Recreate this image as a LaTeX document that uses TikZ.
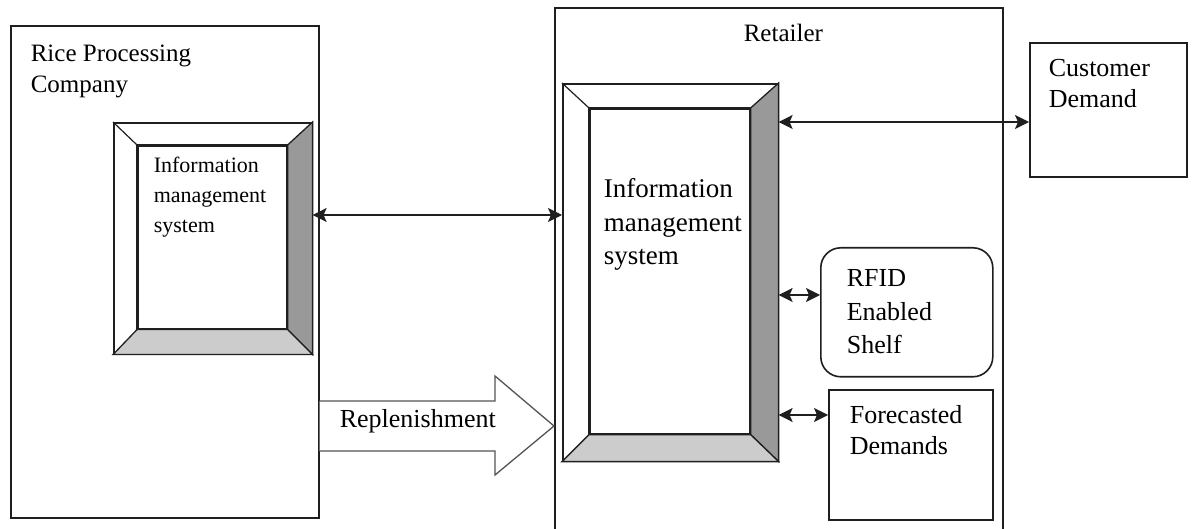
\documentclass[tikz,border=0pt]{standalone}
\usepackage{fontspec}
\setmainfont{Liberation Serif}
\usetikzlibrary{arrows.meta}
\definecolor{edge}{gray}{0.12}
\definecolor{bevdark}{gray}{0.60}
\definecolor{bevlight}{gray}{0.80}
\definecolor{blockline}{gray}{0.33}
\begin{document}
\begin{tikzpicture}[x=1pt,y=-1pt,line width=1.6pt,
  frame/.style={draw=edge,rectangle,inner sep=0pt,anchor=north west,fill=white},
  lbl/.style={anchor=base west,inner sep=0pt,align=left},
  link/.style={draw=edge,line width=1.5pt,{Stealth[length=14pt,width=14pt,inset=3pt]}-{Stealth[length=14pt,width=14pt,inset=3pt]}},
  facedark/.style={fill=bevdark,draw=edge,line width=1.3pt},
  facelight/.style={fill=bevlight,draw=edge,line width=1.3pt},
  diag/.style={draw=edge,line width=1.2pt}]

\useasboundingbox (0,0) rectangle (1192,529);

% outer frames
\node[frame,minimum width=308pt,minimum height=492pt] (rice) at (10,25) {};
\node[frame,minimum width=448pt,minimum height=540pt] (retail) at (554,7) {};
\node[frame,minimum width=157pt,minimum height=134pt] (cust) at (1029,42) {};
\node[frame,rounded corners=20pt,minimum width=172pt,minimum height=129pt] (rfid) at (820,247) {};
\node[frame,minimum width=164pt,minimum height=130pt] (fc) at (828,389) {};

% bevelled box of the processing company
\node[frame,minimum width=198pt,minimum height=231pt] (lo) at (113,122) {};
\node[frame,minimum width=149pt,minimum height=183pt] (li) at (137,145) {};
\path[facedark] (lo.north east) -- (lo.south east) -- (li.south east) -- (li.north east) -- cycle;
\path[facelight] (lo.south west) -- (lo.south east) -- (li.south east) -- (li.south west) -- cycle;
\path[diag] (lo.north west) -- (li.north west);
\draw[edge] (li.south west) rectangle (li.north east);

% bevelled box of the retailer
\node[frame,minimum width=215pt,minimum height=377pt] (ro) at (562,83) {};
\node[frame,minimum width=160pt,minimum height=325pt] (ri) at (589,108) {};
\path[facedark] (ro.north east) -- (ro.south east) -- (ri.south east) -- (ri.north east) -- cycle;
\path[facelight] (ro.south west) -- (ro.south east) -- (ri.south east) -- (ri.south west) -- cycle;
\path[diag] (ro.north west) -- (ri.north west);
\draw[edge] (ri.south west) rectangle (ri.north east);

% replenishment block arrow
\coordinate (rs) at (rice.east |- 0,401);
\path[draw=blockline,fill=white,line width=1.3pt]
  (rs) -- (495,401) -- (495,376) -- (retail.west |- 0,426) -- (495,475) -- (495,451) -- (rice.east |- 0,451);

% labels (anchored at the baseline of their last line)
\node[lbl,font=\fontsize{25}{31}\selectfont] (ricelbl) at (30,93) {Rice Processing\\Company};
\node[lbl,font=\fontsize{25}{31}\selectfont] (retlbl) at (743,42) {Retailer};
\node[lbl,font=\fontsize{22}{30}\selectfont] (limslbl) at (153,233) {Information\\management\\system};
\node[lbl,font=\fontsize{27}{33.5}\selectfont] (rimslbl) at (603,265) {Information\\management\\system};
\node[lbl,font=\fontsize{26}{31}\selectfont] (custlbl) at (1048,108) {Customer\\Demand};
\node[lbl,font=\fontsize{26}{33.5}\selectfont] (rfidlbl) at (846,354) {RFID\\Enabled\\Shelf};
\node[lbl,font=\fontsize{26}{31}\selectfont] (fclbl) at (849,454) {Forecasted\\Demands};
\node[lbl,font=\fontsize{26}{31}\selectfont] (repllbl) at (339,428) {Replenishment};

% information links
\path[link] (lo.east |- 0,215) -- (ro.west |- 0,215);
\path[link] (ro.east |- 0,122) -- (cust.west |- 0,122);
\path[link] (ro.east |- 0,295) -- (rfid.west |- 0,295);
\path[link] (ro.east |- 0,415) -- (fc.west |- 0,415);
\end{tikzpicture}
\end{document}
